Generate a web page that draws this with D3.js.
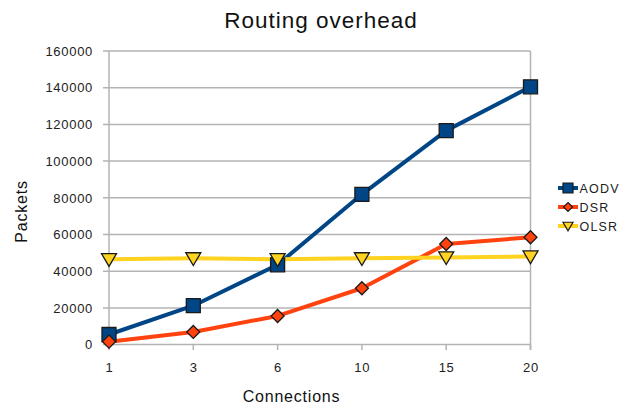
<!DOCTYPE html>
<html><head><meta charset="utf-8">
<script src="https://cdn.jsdelivr.net/npm/d3@7"></script>
<style>body{margin:0;background:#fff}svg{display:block;font-family:"Liberation Sans",Arial,sans-serif}</style>
</head><body>
<script>
const categories = ["1","3","6","10","15","20"];
const aodv = [5500, 21200, 43500, 81900, 116600, 140500];
const dsr = [1600, 6900, 15600, 30700, 54800, 58500];
const olsr = [46500, 47000, 46500, 47000, 47500, 48000];
const yTicks = [0,20000,40000,60000,80000,100000,120000,140000,160000];
const seriesNames = ["AODV","DSR","OLSR"];
const colors = ["#004586","#ff420e","#ffd320"];
const shapes = ["square","diamond","triangle"];

const W=636,H=410;
const svg=d3.select("body").append("svg").attr("width",W).attr("height",H);
const x=d3.scalePoint().domain(categories).range([109,530.5]);
const y=d3.scaleLinear().domain([0,160000]).range([344.6,51]);

svg.append("g").selectAll("line").data(yTicks).join("line")
 .attr("x1",103).attr("x2",530.5).attr("y1",d=>y(d)).attr("y2",d=>y(d))
 .attr("stroke","#b3b3b3").attr("stroke-width",1.5);
svg.append("line").attr("x1",109).attr("x2",109).attr("y1",51).attr("y2",350).attr("stroke","#b3b3b3").attr("stroke-width",1.5);
svg.append("line").attr("x1",530.5).attr("x2",530.5).attr("y1",51).attr("y2",350).attr("stroke","#b3b3b3").attr("stroke-width",1.5);
svg.append("g").selectAll("line").data(categories).join("line")
 .attr("x1",d=>x(d)).attr("x2",d=>x(d)).attr("y1",344.6).attr("y2",350)
 .attr("stroke","#b3b3b3").attr("stroke-width",1.5);
svg.append("g").selectAll("text").data(yTicks).join("text")
 .attr("x",93).attr("y",d=>y(d)+4.7).attr("text-anchor","end").attr("font-size",13).attr("letter-spacing",0.7).attr("fill","#222").text(d=>d);
svg.append("g").selectAll("text").data(categories).join("text")
 .attr("x",d=>x(d)+0.4).attr("y",372).attr("text-anchor","middle").attr("font-size",13).attr("letter-spacing",0.7).attr("fill","#222").text(d=>d);

svg.append("text").attr("x",321).attr("y",28).attr("text-anchor","middle").attr("font-size",22.5).attr("letter-spacing",1).attr("fill","#111").text("Routing overhead");
svg.append("text").attr("x",291.5).attr("y",401.5).attr("text-anchor","middle").attr("font-size",16).attr("letter-spacing",0.8).attr("fill","#111").text("Connections");
svg.append("text").attr("transform","translate(27,211.5) rotate(-90)").attr("text-anchor","middle").attr("font-size",16).attr("letter-spacing",0.8).attr("fill","#111").text("Packets");

function symPath(shape,s){
 if(shape==="square") return `M${-s},${-s}L${s},${-s}L${s},${s}L${-s},${s}Z`;
 if(shape==="diamond") return `M0,${-s}L${s},0L0,${s}L${-s},0Z`;
 return `M${-s},${-s*0.75}L${s},${-s*0.75}L0,${s*0.95}Z`;
}
const data=[aodv,dsr,olsr];
const line=d3.line().x((d,i)=>x(categories[i])).y(d=>y(d));
const sizes=[7,6.5,7.5];
data.forEach((vals,k)=>{
 svg.append("path").datum(vals).attr("d",line).attr("fill","none").attr("stroke",colors[k]).attr("stroke-width",4).attr("stroke-linejoin","round");
});
data.forEach((vals,k)=>{
 svg.append("g").selectAll("path").data(vals).join("path")
  .attr("transform",(d,i)=>`translate(${x(categories[i])},${y(d)})`)
  .attr("d",symPath(shapes[k],sizes[k])).attr("fill",colors[k]).attr("stroke","#1a1a1a").attr("stroke-width",1.3);
});
seriesNames.forEach((n,k)=>{
 const ly=188+k*19;
 const g=svg.append("g").attr("transform",`translate(568,${ly})`);
 g.append("line").attr("x1",-10).attr("x2",10).attr("stroke",colors[k]).attr("stroke-width",4);
 g.append("path").attr("d",symPath(shapes[k],k===1?4.5:5)).attr("fill",colors[k]).attr("stroke","#1a1a1a").attr("stroke-width",1.2);
 g.append("text").attr("x",11.5).attr("y",4.5).attr("font-size",12.5).attr("letter-spacing",1.2).attr("fill","#222").text(n);
});
</script>
</body></html>
